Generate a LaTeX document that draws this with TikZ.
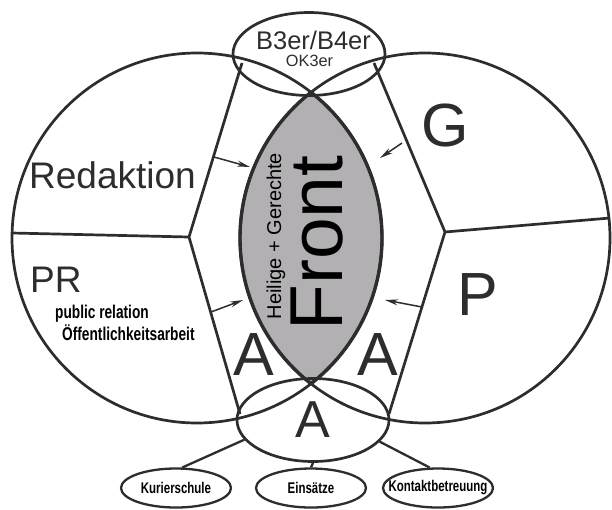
\documentclass[tikz,border=0pt]{standalone}
\usepackage{fontspec}
\setmainfont{Liberation Sans}
\newfontfamily\narrowfont[FakeStretch=0.74]{Liberation Sans}
\usepackage{xcolor}
\usetikzlibrary{shapes.geometric}
\usetikzlibrary{arrows.meta}
\definecolor{ink}{RGB}{45,45,45}
\definecolor{lensgray}{RGB}{178,176,178}

\begin{document}
\begin{tikzpicture}[x=1pt,y=-1pt,
    line/.style={draw=ink,line width=2.7pt},
    hub/.style={ellipse,draw=ink,line width=2.7pt,inner sep=0pt,
      minimum width=152pt,minimum height=83pt},
    leaf/.style={ellipse,draw=ink,line width=2.3pt,inner sep=0pt,
      minimum width=110pt,minimum height=39pt},
    link/.style={draw=ink,line width=2.3pt},
    feed/.style={draw=ink,line width=1.5pt,-{Stealth[length=13pt,width=6pt]}},
    sector/.style={text=ink,inner sep=0pt,anchor=base west,
      font=\fontsize{37}{37}\selectfont},
    letter/.style={text=ink,inner sep=0pt,font=\fontsize{61}{61}\selectfont},
    note/.style={text=black,inner sep=0pt,anchor=base west,
      font=\narrowfont\bfseries\fontsize{18.5}{18.5}\selectfont},
    leaftext/.style={text=black,inner sep=0pt,
      font=\narrowfont\bfseries\fontsize{15.5}{15.5}\selectfont}]
  \useasboundingbox (0,0) rectangle (612,509);

  \begin{scope}
    \clip (197,238) circle (185);
    \fill[lensgray] (425,238) circle (185);
    \draw[line,line width=3.4pt] (425,238) circle (185);
  \end{scope}
  \begin{scope}
    \clip (425,238) circle (185);
    \draw[line,line width=3.4pt] (197,238) circle (185);
  \end{scope}
  \draw[line] (197,238) circle (185);
  \draw[line] (425,238) circle (185);

  \node[hub] (ok) at (309,54) {};
  \node[hub,text=ink,font=\fontsize{52}{52}\selectfont] (aa) at (313,420) {A};
  \node[leaf] (kurier) at (176,488) {};
  \node[leaf] (eins) at (311,488) {};
  \node[leaf] (kontakt) at (438,488) {};
  \node[leaftext] (kuriertxt) at (kurier) {Kurierschule};
  \node[leaftext] (einstxt) at (eins) {Einsätze};
  \node[leaftext] (kontakttxt) at (kontakt) {Kontaktbetreuung};
  \draw[link] (aa.196) -- (kurier.73);
  \draw[link] (aa.south) -- (eins.north);
  \draw[link] (aa.-18) -- (kontakt.112);

  \path (242,63) coordinate (lt) (189,237) coordinate (lv)
    (240,414) coordinate (lb) (12,233) coordinate (le);
  \path (374,63) coordinate (rt) (445,232) coordinate (rv)
    (389,414) coordinate (rb) (610,218) coordinate (re);
  \draw[line] (lt) -- (lv) -- (lb) (lv) -- (le);
  \draw[line] (rt) -- (rv) -- (rb) (rv) -- (re);

  \path (214,157) coordinate (redo) (250,167) coordinate (redi);
  \path (211,312) coordinate (pro) (243,300) coordinate (pri);
  \path (402,143) coordinate (go) (380,158) coordinate (gi);
  \path (422,307) coordinate (po) (385,300) coordinate (pi);
  \draw[feed] (redo) -- (redi);
  \draw[feed] (pro) -- (pri);
  \draw[feed] (go) -- (gi);
  \draw[feed] (po) -- (pi);

  \node[sector] (red) at (29,188) {Redaktion};
  \node[sector] (pr) at (30,292) {PR};
  \node[note] (prsub) at (55,318) {public relation};
  \node[note] (prde) at (62,340) {Öffentlichkeitsarbeit};
  \node[letter] (g) at (445,125) {G};
  \node[letter] (p) at (478,295) {P};
  \node[letter] (al) at (254,355) {A};
  \node[letter] (ar) at (378,355) {A};
  \node[anchor=base,inner sep=0pt,text=ink,font=\fontsize{25.5}{25.5}\selectfont]
    (b34) at (313.5,49) {B3er/B4er};
  \node[anchor=base,inner sep=0pt,text=ink,font=\fontsize{16.3}{16.3}\selectfont]
    (ok3) at (309.5,66) {OK3er};
  \node[rotate=90,anchor=base,inner sep=0pt,text=black,
    font=\fontsize{75}{75}\selectfont] (front) at (342,243) {Front};
  \node[rotate=90,anchor=base,inner sep=0pt,text=black,
    font=\fontsize{20}{20}\selectfont] (saints) at (281,236) {Heilige + Gerechte};
\end{tikzpicture}
\end{document}
